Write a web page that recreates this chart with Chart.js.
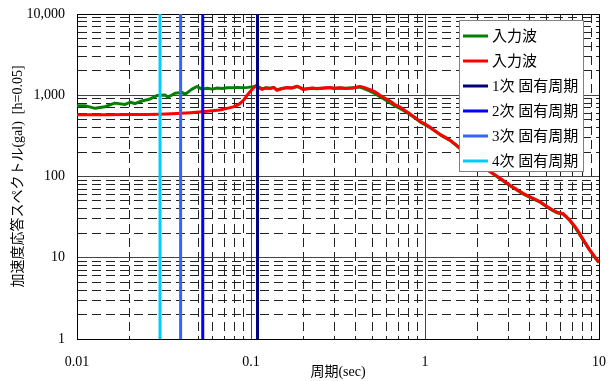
<!DOCTYPE html>
<html>
<head>
<meta charset="utf-8">
<script src="https://cdn.jsdelivr.net/npm/chart.js@4"></script>
<style>
  body { margin: 0; background: #fff; }
  #wrap { width: 616px; height: 381px; }
</style>
</head>
<body>
<div id="wrap"><canvas id="spectrumChart"></canvas></div>
<script>
// Axis ticks
const xDecades = [0.01, 0.1, 1, 10];
const xDecadeLabels = ["0.01", "0.1", "1", "10"];
const yDecades = [1, 10, 100, 1000, 10000];
const yDecadeLabels = ["1", "10", "100", "1,000", "10,000"];
const minorSteps = [2, 3, 4, 5, 6, 7, 8, 9];

// 入力波 (green)
const greenPeriods = [0.01, 0.0111, 0.0127, 0.0145, 0.0165, 0.0189, 0.0202, 0.0215, 0.0236, 0.0263,
  0.0288, 0.032, 0.0333, 0.0366, 0.0401, 0.0418, 0.0458, 0.0489, 0.0523, 0.056,
  0.06, 0.064, 0.068, 0.073, 0.078, 0.084, 0.09, 0.096, 0.103, 0.107,
  0.111, 0.116, 0.122, 0.129, 0.135, 0.141, 0.15, 0.161, 0.172, 0.184,
  0.192, 0.199, 0.21, 0.225, 0.239, 0.26, 0.284, 0.3, 0.324, 0.35,
  0.386, 0.423, 0.45, 0.483, 0.52, 0.551, 0.59, 0.629, 0.67, 0.718,
  0.77, 0.82, 0.88, 0.936, 1.0, 1.069, 1.14, 1.219, 1.3, 1.392,
  1.49, 1.589, 1.85, 2.1, 2.366, 2.7, 3.08, 3.66, 4.1, 4.58,
  5.0, 5.44, 5.8, 6.21, 6.5, 6.81, 7.3, 7.78, 8.3, 8.87, 9.4, 10];
const greenValues = [740, 745, 690, 723, 800, 770, 820, 790, 850, 900,
  990, 1010, 945, 1057, 1085, 1025, 1190, 1280, 1190, 1220,
  1190, 1230, 1210, 1240, 1240, 1250, 1240, 1250, 1270, 1300,
  1260, 1200, 1240, 1220, 1250, 1170, 1210, 1240, 1230, 1280,
  1240, 1190, 1200, 1220, 1200, 1220, 1240, 1210, 1230, 1220,
  1240, 1260, 1200, 1120, 1040, 960, 880, 810, 740, 690,
  630, 580, 520, 470, 435, 400, 362, 328, 303, 278,
  248, 220, 174, 139, 114, 94, 77, 61, 54, 48.5,
  42.5, 38, 35.5, 34.5, 31.5, 28.5, 23.5, 19, 15.2, 12.2, 10.3, 8.7];

// 入力波 (red)
const redPeriods = [0.01, 0.015, 0.02, 0.025, 0.03, 0.035, 0.04, 0.045, 0.05, 0.056,
  0.062, 0.066, 0.072, 0.079, 0.083, 0.087, 0.091, 0.095, 0.099, 0.103,
  0.107, 0.111, 0.116, 0.122, 0.129, 0.135, 0.141, 0.15, 0.161, 0.172,
  0.184, 0.192, 0.199, 0.21, 0.225, 0.239, 0.26, 0.284, 0.3, 0.324,
  0.35, 0.386, 0.423, 0.45, 0.483, 0.52, 0.551, 0.59, 0.629, 0.67,
  0.718, 0.77, 0.82, 0.88, 0.936, 1.0, 1.069, 1.14, 1.219, 1.3,
  1.392, 1.49, 1.589, 1.85, 2.1, 2.366, 2.7, 3.08, 3.66, 4.1,
  4.58, 5.0, 5.44, 5.8, 6.21, 6.5, 6.81, 7.3, 7.78, 8.3, 8.87, 9.4, 10];
const redValues = [575, 575, 578, 580, 585, 592, 600, 610, 622, 635,
  650, 660, 685, 720, 750, 800, 880, 1000, 1110, 1220,
  1310, 1240, 1180, 1230, 1210, 1250, 1150, 1200, 1250, 1230,
  1290, 1240, 1180, 1200, 1230, 1210, 1230, 1250, 1220, 1240,
  1210, 1230, 1285, 1240, 1170, 1090, 1000, 920, 850, 770,
  715, 645, 590, 530, 478, 442, 405, 365, 330, 305,
  280, 250, 222, 175, 140, 115, 95, 78, 62, 55,
  49, 43, 38.5, 36, 35, 32, 29, 24, 19.5, 15.5, 12.4, 10.5, 8.8];

// Natural periods (1次..4次)
const modeLabels = ["1次 固有周期", "2次 固有周期", "3次 固有周期", "4次 固有周期"];
const modePeriods = [0.109, 0.0528, 0.0394, 0.030];
const modeColors = ["#000080", "#0000ff", "#3366ff", "#00ccff"];

const fontStack = "'Liberation Serif', 'Noto Sans CJK JP', serif";

function allTicks() {
  const list = [];
  xDecades.forEach((d) => {
    list.push(d);
    if (d < 10) minorSteps.forEach((m) => list.push(+(d * m).toPrecision(3)));
  });
  return list;
}
function allYTicks() {
  const list = [];
  yDecades.forEach((d) => {
    list.push(d);
    if (d < 10000) minorSteps.forEach((m) => list.push(d * m));
  });
  return list;
}
function labelFor(value, decades, labels) {
  const i = decades.findIndex((d) => Math.abs(d - value) / d < 1e-6);
  return i >= 0 ? labels[i] : "";
}
// no extra room for labels sticking out past the plot edges
function noOverflow(s) {
  s.paddingLeft = 0;
  s.paddingRight = 0;
  s.paddingTop = 0;
  s.paddingBottom = 0;
}

// legend drawn inside the plot area, on top of the grid
const insideLegend = {
  id: "insideLegend",
  afterDraw(chart) {
    const ctx = chart.ctx;
    const area = chart.chartArea;
    const w = 124, h = 151;
    const x = area.right - 16 - w;
    const y = area.top + 6;
    ctx.save();
    ctx.fillStyle = "#fff";
    ctx.fillRect(x, y, w, h);
    ctx.strokeStyle = "#808080";
    ctx.lineWidth = 1;
    ctx.strokeRect(x + 0.5, y + 0.5, w, h);
    ctx.font = "15px " + fontStack;
    ctx.textBaseline = "middle";
    ctx.textAlign = "left";
    chart.data.datasets.forEach((ds, i) => {
      const cy = y + 16 + i * 25;
      ctx.strokeStyle = ds.borderColor;
      ctx.lineWidth = 3;
      ctx.beginPath();
      ctx.moveTo(x + 4, cy);
      ctx.lineTo(x + 29, cy);
      ctx.stroke();
      ctx.fillStyle = "#000";
      ctx.fillText(ds.label, x + 33, cy + 1);
    });
    ctx.restore();
  },
};

const datasets = [
  {
    label: "入力波",
    data: greenPeriods.map((p, i) => ({ x: p, y: greenValues[i] })),
    borderColor: "#008000",
    borderWidth: 3,
    pointRadius: 0,
    order: 6,
  },
  {
    label: "入力波",
    data: redPeriods.map((p, i) => ({ x: p, y: redValues[i] })),
    borderColor: "#ff0000",
    borderWidth: 3,
    pointRadius: 0,
    order: 5,
  },
];
modePeriods.forEach((p, i) => {
  datasets.push({
    label: modeLabels[i],
    data: [{ x: p, y: 1 }, { x: p, y: 10000 }],
    borderColor: modeColors[i],
    borderWidth: 3,
    pointRadius: 0,
    order: i,
  });
});

new Chart(document.getElementById("spectrumChart"), {
  type: "line",
  data: { datasets },
  options: {
    responsive: true,
    maintainAspectRatio: false,
    animation: false,
    events: [],
    layout: { padding: { left: 0, right: 17, top: 14, bottom: 0 } },
    elements: { line: { borderJoinStyle: "round", borderCapStyle: "butt" } },
    plugins: {
      legend: { display: false },
      tooltip: { enabled: false },
    },
    scales: {
      x: {
        type: "logarithmic",
        position: "bottom",
        min: 0.01,
        max: 10,
        afterBuildTicks: (s) => { s.ticks = allTicks().map((v) => ({ value: v })); },
        afterFit: (s) => { s.height = 42; noOverflow(s); },
        ticks: {
          autoSkip: false,
          maxRotation: 0,
          padding: 15,
          color: "#000",
          font: { family: fontStack, size: 14 },
          callback: (v) => labelFor(v, xDecades, xDecadeLabels),
        },
        grid: { color: "#222", lineWidth: 1, drawTicks: false },
        border: { display: true, color: "#000", width: 1, dash: [9, 5] },
        title: {
          display: true,
          text: "周期(sec)",
          color: "#000",
          font: { family: fontStack, size: 14 },
          padding: { top: 0, bottom: 0 },
        },
      },
      x2: {
        type: "logarithmic",
        position: "top",
        min: 0.01,
        max: 10,
        afterBuildTicks: (s) => { s.ticks = xDecades.map((v) => ({ value: v })); },
        afterFit: (s) => { s.height = 0; noOverflow(s); },
        ticks: { display: false },
        grid: { color: "#444", lineWidth: 1, drawTicks: false },
        border: { display: true, color: "#000", width: 1 },
      },
      y: {
        type: "logarithmic",
        position: "left",
        min: 1,
        max: 10000,
        afterBuildTicks: (s) => { s.ticks = allYTicks().map((v) => ({ value: v })); },
        afterFit: (s) => { s.width = 77; noOverflow(s); },
        ticks: {
          autoSkip: false,
          padding: 12,
          color: "#000",
          font: { family: fontStack, size: 14 },
          callback: (v) => labelFor(v, yDecades, yDecadeLabels),
        },
        grid: { color: "#222", lineWidth: 1, drawTicks: false },
        border: { display: true, color: "#000", width: 1, dash: [9, 5] },
        title: {
          display: true,
          text: "加速度応答スペクトル(gal)  [h=0.05]",
          color: "#000",
          font: { family: fontStack, size: 14 },
          padding: { top: 10, bottom: 0 },
        },
      },
      y2: {
        type: "logarithmic",
        position: "right",
        min: 1,
        max: 10000,
        afterBuildTicks: (s) => { s.ticks = yDecades.map((v) => ({ value: v })); },
        afterFit: (s) => { s.width = 0; noOverflow(s); },
        ticks: { display: false },
        grid: { color: "#444", lineWidth: 1, drawTicks: false },
        border: { display: true, color: "#000", width: 1 },
      },
    },
  },
  plugins: [insideLegend],
});
</script>
</body>
</html>
